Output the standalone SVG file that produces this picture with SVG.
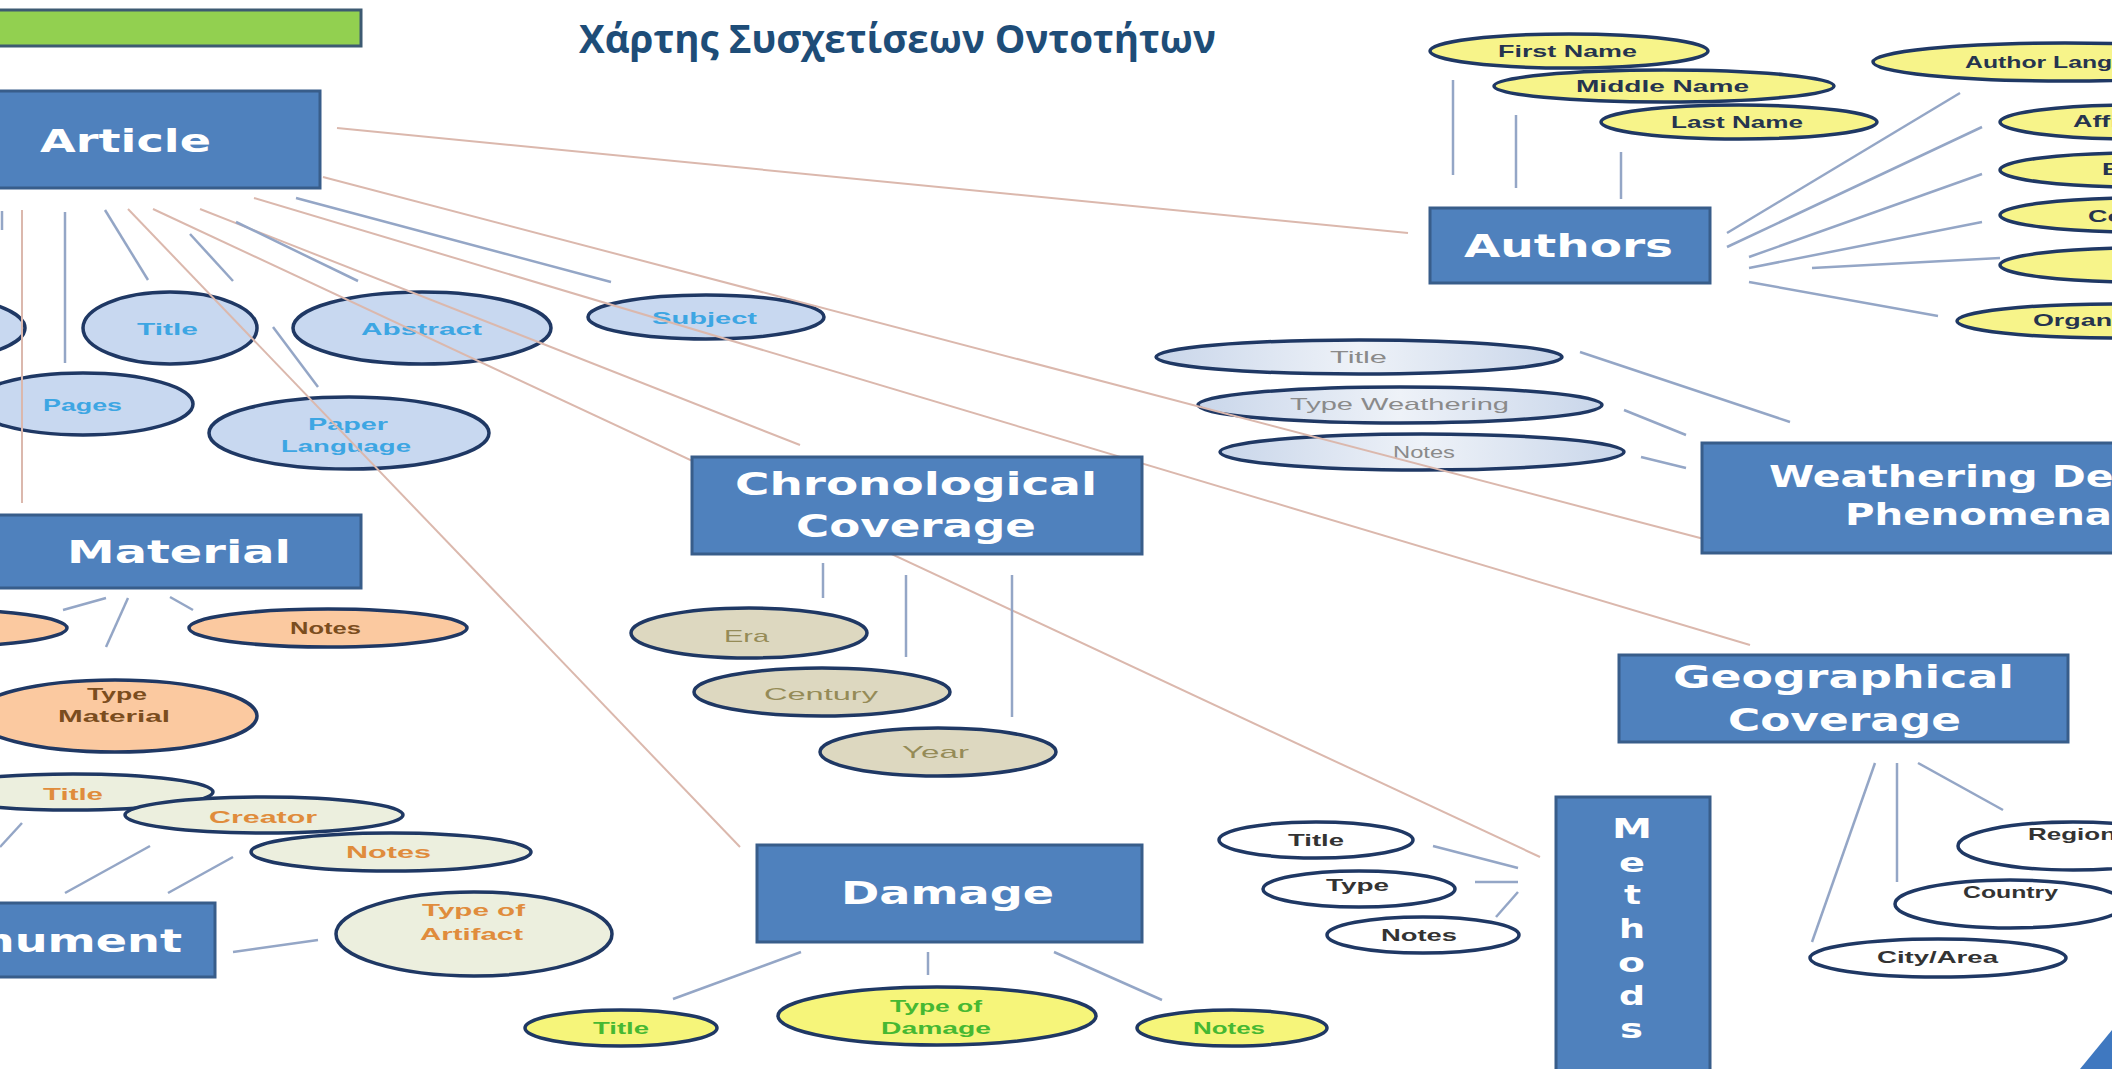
<svg xmlns="http://www.w3.org/2000/svg" width="2112" height="1069" viewBox="0 0 2112 1069">
<style>
.box{fill:#4f81bd;stroke:#385d8a;stroke-width:3}
.bt{font-family:"DejaVu Sans",Verdana,sans-serif;font-weight:bold;font-size:32px;fill:#ffffff}
.ml{font-family:"DejaVu Sans",Verdana,sans-serif;font-weight:bold;font-size:27px;fill:#ffffff}
.e{stroke:#1f3864;stroke-width:3.5}
.at{font-family:"Liberation Sans",Arial,sans-serif;font-weight:bold;font-size:17px}
.rg{font-weight:normal}
.fa{fill:#c8d8f0}.ta{fill:#3da6e3}
.fy{fill:#f7f48a}.ty{fill:#26344f}
.fw{fill:url(#gw)}.tw{fill:#8a8a8a}
.fc{fill:#ddd8c0}.tc{fill:#958b57}
.fm{fill:#fbc9a0}.tm{fill:#7b4d1e}
.fn{fill:#ecefde}.tn{fill:#e08c3c}
.fd{fill:#f6f57a}.td{fill:#46b832}
.fx{fill:#ffffff}.tx{fill:#333333}
.lb{stroke:#94a6c6;stroke-width:2.5;fill:none}
.lp{stroke:#dbb8ad;stroke-width:2;fill:none}
</style>
<defs>
<linearGradient id="gw" x1="0" y1="0" x2="1" y2="0">
<stop offset="0" stop-color="#c9d6ea"/><stop offset="0.5" stop-color="#eef2f8"/><stop offset="1" stop-color="#c9d6ea"/>
</linearGradient>
</defs>
<rect width="2112" height="1069" fill="#ffffff"/>
<rect x="-10" y="10" width="371" height="36" fill="#92d050" stroke="#3d5a72" stroke-width="3"/>
<text x="579" y="53" textLength="637" lengthAdjust="spacingAndGlyphs" style="font-family:'Open Sans','Noto Sans',sans-serif;font-weight:bold;font-size:39px;fill:#1e4d78">Χάρτης Συσχετίσεων Οντοτήτων</text>

<g id="attributes">
<g id="article-attr-left"><ellipse cx="-103" cy="328" rx="128" ry="36" class="e fa"/></g>
<g id="article-title"><ellipse cx="170" cy="328" rx="87" ry="36" class="e fa"/><text class="at ta" x="137" y="335" textLength="61" lengthAdjust="spacingAndGlyphs">Title</text></g>
<g id="article-abstract"><ellipse cx="422" cy="328" rx="129" ry="36" class="e fa"/><text class="at ta" x="361" y="335" textLength="121" lengthAdjust="spacingAndGlyphs">Abstract</text></g>
<g id="article-subject"><ellipse cx="706" cy="317" rx="118" ry="22" class="e fa"/><text class="at ta" x="652" y="324" textLength="105" lengthAdjust="spacingAndGlyphs">Subject</text></g>
<g id="article-pages"><ellipse cx="83" cy="404" rx="110" ry="31" class="e fa"/><text class="at ta" x="43" y="411" textLength="79" lengthAdjust="spacingAndGlyphs">Pages</text></g>
<g id="article-paper-language"><ellipse cx="349" cy="433" rx="140" ry="36" class="e fa"/><text class="at ta" x="308" y="430" textLength="80" lengthAdjust="spacingAndGlyphs">Paper</text><text class="at ta" x="281" y="452" textLength="130" lengthAdjust="spacingAndGlyphs">Language</text></g>

<g id="authors-first-name"><ellipse cx="1569" cy="51" rx="139" ry="17" class="e fy"/><text class="at ty" x="1498" y="57" textLength="139" lengthAdjust="spacingAndGlyphs">First Name</text></g>
<g id="authors-middle-name"><ellipse cx="1664" cy="86" rx="170" ry="16" class="e fy"/><text class="at ty" x="1576" y="92" textLength="173" lengthAdjust="spacingAndGlyphs">Middle Name</text></g>
<g id="authors-last-name"><ellipse cx="1739" cy="122" rx="138" ry="17" class="e fy"/><text class="at ty" x="1671" y="128" textLength="132" lengthAdjust="spacingAndGlyphs">Last Name</text></g>
<g id="authors-language"><ellipse cx="2065" cy="62" rx="192" ry="19" class="e fy"/><text class="at ty" x="1965" y="68" textLength="205" lengthAdjust="spacingAndGlyphs">Author Language</text></g>
<g id="authors-affiliation"><ellipse cx="2135" cy="122" rx="135" ry="17" class="e fy"/><text class="at ty" x="2073" y="127" textLength="124" lengthAdjust="spacingAndGlyphs">Affiliation</text></g>
<g id="authors-email"><ellipse cx="2138" cy="170" rx="138" ry="17" class="e fy"/><text class="at ty" x="2102" y="175" textLength="72" lengthAdjust="spacingAndGlyphs">Email</text></g>
<g id="authors-country"><ellipse cx="2140" cy="215" rx="140" ry="17" class="e fy"/><text class="at ty" x="2088" y="222" textLength="103" lengthAdjust="spacingAndGlyphs">Country</text></g>
<g id="authors-attr5"><ellipse cx="2140" cy="265" rx="140" ry="17" class="e fy"/></g>
<g id="authors-organization"><ellipse cx="2115" cy="321" rx="158" ry="17" class="e fy"/><text class="at ty" x="2033" y="326" textLength="164" lengthAdjust="spacingAndGlyphs">Organization</text></g>

<g id="weathering-title"><ellipse cx="1359" cy="357" rx="203" ry="17" class="e fw"/><text class="at tw rg" x="1330" y="363" textLength="57" lengthAdjust="spacingAndGlyphs">Title</text></g>
<g id="weathering-type"><ellipse cx="1400" cy="405" rx="202" ry="18" class="e fw"/><text class="at tw rg" x="1290" y="410" textLength="219" lengthAdjust="spacingAndGlyphs">Type Weathering</text></g>
<g id="weathering-notes"><ellipse cx="1422" cy="452" rx="202" ry="18" class="e fw"/><text class="at tw rg" x="1393" y="458" textLength="62" lengthAdjust="spacingAndGlyphs">Notes</text></g>

<g id="chrono-era"><ellipse cx="749" cy="633" rx="118" ry="25" class="e fc"/><text class="at tc rg" x="724" y="642" textLength="45" lengthAdjust="spacingAndGlyphs">Era</text></g>
<g id="chrono-century"><ellipse cx="822" cy="692" rx="128" ry="24" class="e fc"/><text class="at tc rg" x="764" y="700" textLength="114" lengthAdjust="spacingAndGlyphs">Century</text></g>
<g id="chrono-year"><ellipse cx="938" cy="752" rx="118" ry="24" class="e fc"/><text class="at tc rg" x="902" y="758" textLength="67" lengthAdjust="spacingAndGlyphs">Year</text></g>

<g id="material-attr-left"><ellipse cx="-72" cy="628" rx="139" ry="19" class="e fm"/></g>
<g id="material-notes"><ellipse cx="328" cy="628" rx="139" ry="19" class="e fm"/><text class="at tm" x="290" y="634" textLength="71" lengthAdjust="spacingAndGlyphs">Notes</text></g>
<g id="material-type"><ellipse cx="115" cy="716" rx="142" ry="36" class="e fm"/><text class="at tm" x="87" y="700" textLength="60" lengthAdjust="spacingAndGlyphs">Type</text><text class="at tm" x="58" y="722" textLength="112" lengthAdjust="spacingAndGlyphs">Material</text></g>

<g id="monument-title"><ellipse cx="73" cy="792" rx="140" ry="18" class="e fn"/><text class="at tn" x="43" y="800" textLength="60" lengthAdjust="spacingAndGlyphs">Title</text></g>
<g id="monument-creator"><ellipse cx="264" cy="815" rx="139" ry="18" class="e fn"/><text class="at tn" x="209" y="823" textLength="108" lengthAdjust="spacingAndGlyphs">Creator</text></g>
<g id="monument-notes"><ellipse cx="391" cy="852" rx="140" ry="19" class="e fn"/><text class="at tn" x="346" y="858" textLength="85" lengthAdjust="spacingAndGlyphs">Notes</text></g>
<g id="monument-artifact"><ellipse cx="474" cy="934" rx="138" ry="42" class="e fn"/><text class="at tn" x="422" y="916" textLength="103" lengthAdjust="spacingAndGlyphs">Type of</text><text class="at tn" x="420" y="940" textLength="103" lengthAdjust="spacingAndGlyphs">Artifact</text></g>

<g id="damage-title"><ellipse cx="621" cy="1028" rx="96" ry="18" class="e fd"/><text class="at td" x="593" y="1034" textLength="56" lengthAdjust="spacingAndGlyphs">Title</text></g>
<g id="damage-type"><ellipse cx="937" cy="1016" rx="159" ry="29" class="e fd"/><text class="at td" x="890" y="1012" textLength="92" lengthAdjust="spacingAndGlyphs">Type of</text><text class="at td" x="881" y="1034" textLength="110" lengthAdjust="spacingAndGlyphs">Damage</text></g>
<g id="damage-notes"><ellipse cx="1232" cy="1028" rx="95" ry="18" class="e fd"/><text class="at td" x="1193" y="1034" textLength="72" lengthAdjust="spacingAndGlyphs">Notes</text></g>

<g id="methods-title"><ellipse cx="1316" cy="840" rx="97" ry="18" class="e fx"/><text class="at tx" x="1288" y="846" textLength="56" lengthAdjust="spacingAndGlyphs">Title</text></g>
<g id="methods-type"><ellipse cx="1359" cy="889" rx="96" ry="18" class="e fx"/><text class="at tx" x="1326" y="891" textLength="63" lengthAdjust="spacingAndGlyphs">Type</text></g>
<g id="methods-notes"><ellipse cx="1423" cy="935" rx="96" ry="18" class="e fx"/><text class="at tx" x="1381" y="941" textLength="76" lengthAdjust="spacingAndGlyphs">Notes</text></g>

<g id="geo-region"><ellipse cx="2073" cy="846" rx="115" ry="24" class="e fx"/><text class="at tx" x="2028" y="840" textLength="88" lengthAdjust="spacingAndGlyphs">Region</text></g>
<g id="geo-country"><ellipse cx="2010" cy="904" rx="115" ry="24" class="e fx"/><text class="at tx" x="1963" y="898" textLength="95" lengthAdjust="spacingAndGlyphs">Country</text></g>
<g id="geo-city"><ellipse cx="1938" cy="958" rx="128" ry="19" class="e fx"/><text class="at tx" x="1877" y="963" textLength="121" lengthAdjust="spacingAndGlyphs">City/Area</text></g>
</g>

<g id="connectors">
<line class="lp" x1="22" y1="210" x2="22" y2="503"/>
<line class="lp" x1="128" y1="209" x2="740" y2="847"/>
<line class="lp" x1="153" y1="209" x2="1540" y2="857"/>
<line class="lp" x1="200" y1="209" x2="800" y2="445"/>
<line class="lp" x1="254" y1="198" x2="1750" y2="645"/>
<line class="lp" x1="323" y1="177" x2="1704" y2="539"/>
<line class="lp" x1="337" y1="128" x2="1408" y2="233"/>
<line class="lb" x1="2" y1="211" x2="2" y2="230"/>
<line class="lb" x1="65" y1="212" x2="65" y2="363"/>
<line class="lb" x1="105" y1="210" x2="148" y2="280"/>
<line class="lb" x1="190" y1="234" x2="233" y2="281"/>
<line class="lb" x1="236" y1="222" x2="358" y2="281"/>
<line class="lb" x1="296" y1="198" x2="611" y2="282"/>
<line class="lb" x1="273" y1="327" x2="318" y2="387"/>
<line class="lb" x1="1453" y1="80" x2="1453" y2="175"/>
<line class="lb" x1="1516" y1="115" x2="1516" y2="188"/>
<line class="lb" x1="1621" y1="152" x2="1621" y2="199"/>
<line class="lb" x1="1727" y1="233" x2="1960" y2="93"/>
<line class="lb" x1="1727" y1="247" x2="1982" y2="127"/>
<line class="lb" x1="1749" y1="257" x2="1982" y2="174"/>
<line class="lb" x1="1749" y1="268" x2="1982" y2="222"/>
<line class="lb" x1="1812" y1="268" x2="2000" y2="258"/>
<line class="lb" x1="1749" y1="282" x2="1938" y2="316"/>
<line class="lb" x1="1580" y1="352" x2="1790" y2="422"/>
<line class="lb" x1="1624" y1="410" x2="1686" y2="435"/>
<line class="lb" x1="1641" y1="457" x2="1686" y2="468"/>
<line class="lb" x1="823" y1="563" x2="823" y2="598"/>
<line class="lb" x1="906" y1="575" x2="906" y2="657"/>
<line class="lb" x1="1012" y1="575" x2="1012" y2="717"/>
<line class="lb" x1="63" y1="610" x2="106" y2="598"/>
<line class="lb" x1="128" y1="598" x2="106" y2="647"/>
<line class="lb" x1="170" y1="597" x2="193" y2="610"/>
<line class="lb" x1="233" y1="952" x2="318" y2="940"/>
<line class="lb" x1="65" y1="893" x2="150" y2="846"/>
<line class="lb" x1="168" y1="893" x2="233" y2="857"/>
<line class="lb" x1="0" y1="847" x2="22" y2="823"/>
<line class="lb" x1="801" y1="952" x2="673" y2="999"/>
<line class="lb" x1="928" y1="952" x2="928" y2="975"/>
<line class="lb" x1="1054" y1="952" x2="1162" y2="1000"/>
<line class="lb" x1="1433" y1="846" x2="1518" y2="868"/>
<line class="lb" x1="1475" y1="882" x2="1518" y2="882"/>
<line class="lb" x1="1496" y1="917" x2="1518" y2="892"/>
<line class="lb" x1="1875" y1="763" x2="1812" y2="942"/>
<line class="lb" x1="1897" y1="763" x2="1897" y2="882"/>
<line class="lb" x1="1918" y1="763" x2="2003" y2="810"/>
</g>

<g id="article"><rect class="box" x="-10" y="91" width="330" height="97"/><text class="bt" x="40" y="152" textLength="171" lengthAdjust="spacingAndGlyphs">Article</text></g>
<g id="authors"><rect class="box" x="1430" y="208" width="280" height="75"/><text class="bt" x="1464" y="257" textLength="209" lengthAdjust="spacingAndGlyphs">Authors</text></g>
<g id="material"><rect class="box" x="-10" y="515" width="371" height="73"/><text class="bt" x="67" y="563" textLength="224" lengthAdjust="spacingAndGlyphs">Material</text></g>
<g id="chronological-coverage"><rect class="box" x="692" y="457" width="450" height="97"/><text class="bt" x="735" y="495" textLength="362" lengthAdjust="spacingAndGlyphs">Chronological</text><text class="bt" x="796" y="537" textLength="240" lengthAdjust="spacingAndGlyphs">Coverage</text></g>
<g id="damage"><rect class="box" x="757" y="845" width="385" height="97"/><text class="bt" x="841" y="904" textLength="213" lengthAdjust="spacingAndGlyphs">Damage</text></g>
<g id="geographical-coverage"><rect class="box" x="1619" y="655" width="449" height="87"/><text class="bt" x="1673" y="688" textLength="341" lengthAdjust="spacingAndGlyphs">Geographical</text><text class="bt" x="1728" y="731" textLength="233" lengthAdjust="spacingAndGlyphs">Coverage</text></g>
<g id="weathering"><rect class="box" x="1702" y="443" width="430" height="110"/><text class="bt" x="1769" y="487" textLength="422" lengthAdjust="spacingAndGlyphs" style="font-size:30px">Weathering Decay</text><text class="bt" x="1845" y="525" textLength="267" lengthAdjust="spacingAndGlyphs" style="font-size:30px">Phenomena</text></g>
<g id="methods"><rect class="box" x="1556" y="797" width="154" height="285"/>
<text class="ml" x="1612" y="838" textLength="40" lengthAdjust="spacingAndGlyphs">M</text>
<text class="ml" x="1619" y="872" textLength="26" lengthAdjust="spacingAndGlyphs">e</text>
<text class="ml" x="1624" y="904" textLength="17" lengthAdjust="spacingAndGlyphs">t</text>
<text class="ml" x="1619" y="938" textLength="26" lengthAdjust="spacingAndGlyphs">h</text>
<text class="ml" x="1618" y="972" textLength="27" lengthAdjust="spacingAndGlyphs">o</text>
<text class="ml" x="1619" y="1005" textLength="26" lengthAdjust="spacingAndGlyphs">d</text>
<text class="ml" x="1620" y="1038" textLength="23" lengthAdjust="spacingAndGlyphs">s</text>
</g>
<g id="monument"><rect class="box" x="-10" y="903" width="225" height="74"/><text class="bt" x="-96" y="952" textLength="278" lengthAdjust="spacingAndGlyphs">Monument</text></g>

<polygon points="2080,1069 2112,1030 2112,1069" fill="#3f78c0"/>
</svg>
